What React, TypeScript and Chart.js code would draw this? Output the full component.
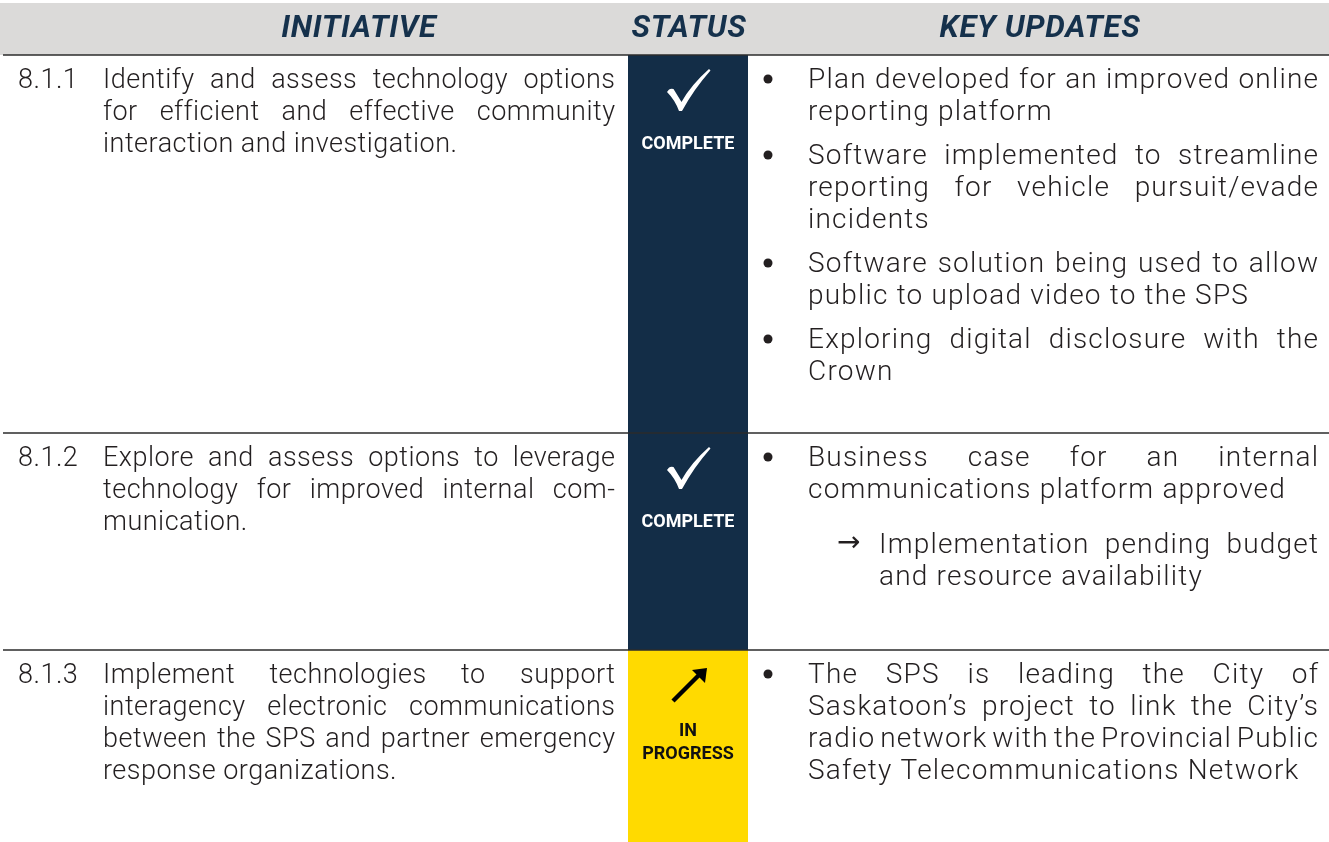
import React, { useEffect, useRef } from "react";
import { Chart, registerables } from "chart.js";

Chart.register(...registerables);

// ---------------- data ----------------
const HEADERS = ["INITIATIVE", "STATUS", "KEY UPDATES"];
const ROW_IDS = ["8.1.1", "8.1.2", "8.1.3"];

const INITIATIVE_811 = [
  "Identify and assess technology options",
  "for efficient and effective community",
  "interaction and investigation.",
];
const INITIATIVE_812 = [
  "Explore and assess options to leverage",
  "technology for improved internal com-",
  "munication.",
];
const INITIATIVE_813 = [
  "Implement technologies to support",
  "interagency electronic communications",
  "between the SPS and partner emergency",
  "response organizations.",
];
const INITIATIVES = [INITIATIVE_811, INITIATIVE_812, INITIATIVE_813];

const STATUS_KINDS = ["complete", "complete", "progress"];
const STATUS_LABELS = [["COMPLETE"], ["COMPLETE"], ["IN", "PROGRESS"]];

type Item = { level: number; lines: string[] };
const UPDATES_811: Item[] = [
  { level: 0, lines: ["Plan developed for an improved online", "reporting platform"] },
  { level: 0, lines: ["Software implemented to streamline", "reporting for vehicle pursuit/evade", "incidents"] },
  { level: 0, lines: ["Software solution being used to allow", "public to upload video to the SPS"] },
  { level: 0, lines: ["Exploring digital disclosure with the", "Crown"] },
];
const UPDATES_812: Item[] = [
  { level: 0, lines: ["Business case for an internal", "communications platform approved"] },
  { level: 1, lines: ["Implementation pending budget", "and resource availability"] },
];
const UPDATES_813: Item[] = [
  {
    level: 0,
    lines: [
      "The SPS is leading the City of",
      "Saskatoon\u2019s project to link the City\u2019s",
      "radio network with the Provincial Public",
      "Safety Telecommunications Network",
    ],
  },
];
const UPDATES = [UPDATES_811, UPDATES_812, UPDATES_813];

// ---------------- layout & style ----------------
const W = 1329;
const H = 842;
const L = {
  headerTop: 3,
  headerBottom: 55,
  rowEdges: [55, 433, 650, 842],
  ruleLeft: 3,
  numX: 18,
  initLeft: 103,
  initRight: 615,
  statusLeft: 628,
  statusRight: 748,
  bulletX: 768,
  bulletR: 4.5,
  updLeft: 808,
  updRight: 1318,
  arrowX: 837,
  subLeft: 879,
  firstBaseline: 33,
  lineH: 32,
  itemGap: 12,
  subItemGap: 23,
  iconOffset: 35,
  labelBaseline: 94,
  labelLineH: 23,
  headerBaseline: 37,
  headerCenters: [359, 689, 1040],
};
const COLORS: Record<string, string> = {
  complete: "#132d47",
  progress: "#ffda00",
  headerBg: "#dbdad9",
  headerText: "#15314c",
  body: "#231f20",
  rule: "#2b2b2b",
  completeLabel: "#ffffff",
  progressLabel: "#111111",
};
const FONT_HEADER = "italic 700 31px Roboto, 'Liberation Sans', sans-serif";
const FONT_INIT = "300 27px Roboto, 'Liberation Sans', sans-serif";
const FONT_UPD = "300 28px Roboto, 'Liberation Sans', sans-serif";
const FONT_LABEL = "700 18px Roboto, 'Liberation Sans', sans-serif";
const FONT_ARROW = "400 28px Roboto, 'DejaVu Sans', sans-serif";
const LS_HEADER = 0.7;
const LS_INIT = 0.5;
const LS_UPD = 1.2;

function drawTextLine(
  ctx: CanvasRenderingContext2D,
  text: string,
  x: number,
  y: number,
  width: number,
  justify: boolean,
  ls: number
) {
  (ctx as any).letterSpacing = `${ls}px`;
  const words = text.split(" ");
  if (!justify || words.length < 2) {
    ctx.fillText(text, x, y);
    return;
  }
  const widths = words.map((w) => ctx.measureText(w).width);
  const total = widths.reduce((a, b) => a + b, 0) - ls;
  const gap = (width - total) / (words.length - 1);
  let cx = x;
  words.forEach((w, i) => {
    ctx.fillText(w, cx, y);
    cx += widths[i] + gap;
  });
}

function drawCheck(ctx: CanvasRenderingContext2D, cx: number, cy: number) {
  ctx.save();
  ctx.translate(cx, cy);
  ctx.fillStyle = "#ffffff";
  ctx.beginPath();
  ctx.moveTo(-22, 2);
  ctx.quadraticCurveTo(-19.5, -2.5, -15.5, -1);
  ctx.lineTo(-7.5, 12);
  ctx.quadraticCurveTo(2, -5, 20, -21);
  ctx.lineTo(21.5, -19.5);
  ctx.quadraticCurveTo(5, -1, -7, 21);
  ctx.lineTo(-10, 21);
  ctx.quadraticCurveTo(-14, 10, -22, 2);
  ctx.closePath();
  ctx.fill();
  ctx.restore();
}

function drawUpArrow(ctx: CanvasRenderingContext2D, cx: number, cy: number) {
  ctx.save();
  ctx.translate(cx, cy);
  ctx.strokeStyle = "#000";
  ctx.fillStyle = "#000";
  ctx.lineWidth = 4.5;
  ctx.beginPath();
  ctx.moveTo(-16, 16);
  ctx.lineTo(10, -10);
  ctx.stroke();
  ctx.beginPath();
  ctx.moveTo(18, -17);
  ctx.lineTo(3, -15);
  ctx.lineTo(16, -2);
  ctx.closePath();
  ctx.fill();
  ctx.restore();
}

const tablePlugin = {
  id: "tableDecor",
  beforeDatasetsDraw(chart: any) {
    const { ctx } = chart;
    const xs = chart.scales.x;
    const ys = chart.scales.y;
    const px = (v: number) => xs.getPixelForValue(v);
    const py = (v: number) => ys.getPixelForValue(v);
    ctx.save();
    ctx.fillStyle = COLORS.headerBg;
    ctx.fillRect(px(0), py(L.headerTop), px(W) - px(0), py(L.headerBottom) - py(L.headerTop));
    ctx.restore();
  },
  afterDatasetsDraw(chart: any) {
    const { ctx } = chart;
    const xs = chart.scales.x;
    const ys = chart.scales.y;
    const px = (v: number) => xs.getPixelForValue(v);
    const py = (v: number) => ys.getPixelForValue(v);
    ctx.save();

    // rules
    ctx.strokeStyle = COLORS.rule;
    ctx.lineWidth = 1.6;
    L.rowEdges.slice(0, 3).forEach((e) => {
      ctx.beginPath();
      ctx.moveTo(px(L.ruleLeft), py(e));
      ctx.lineTo(px(W), py(e));
      ctx.stroke();
    });

    // headers
    ctx.font = FONT_HEADER;
    ctx.fillStyle = COLORS.headerText;
    ctx.textAlign = "center";
    ctx.textBaseline = "alphabetic";
    (ctx as any).letterSpacing = `${LS_HEADER}px`;
    HEADERS.forEach((h, i) => ctx.fillText(h, px(L.headerCenters[i]), py(L.headerBaseline)));

    const statusCenter = (L.statusLeft + L.statusRight) / 2;

    ROW_IDS.forEach((id, r) => {
      const top = L.rowEdges[r];
      const base = top + L.firstBaseline;

      // id & initiative
      ctx.textAlign = "left";
      ctx.fillStyle = COLORS.body;
      ctx.font = FONT_INIT;
      (ctx as any).letterSpacing = `${LS_INIT}px`;
      ctx.fillText(id, px(L.numX), py(base));
      const lines = INITIATIVES[r];
      lines.forEach((ln, k) => {
        drawTextLine(
          ctx,
          ln,
          px(L.initLeft),
          py(base + k * L.lineH),
          px(L.initRight) - px(L.initLeft),
          k < lines.length - 1,
          LS_INIT
        );
      });

      // status icon + labels
      const kind = STATUS_KINDS[r];
      if (kind === "complete") drawCheck(ctx, px(statusCenter + 1), py(top + L.iconOffset));
      else drawUpArrow(ctx, px(statusCenter + 1), py(top + L.iconOffset));
      ctx.font = FONT_LABEL;
      (ctx as any).letterSpacing = "0px";
      ctx.textAlign = "center";
      ctx.fillStyle = kind === "complete" ? COLORS.completeLabel : COLORS.progressLabel;
      const labels = STATUS_LABELS[r];
      const lb0 = top + L.labelBaseline - ((labels.length - 1) * L.labelLineH) / 3;
      labels.forEach((lab, k) => {
        ctx.fillText(lab, px(statusCenter), py(lb0 + k * L.labelLineH));
      });

      // key updates
      ctx.textAlign = "left";
      ctx.fillStyle = COLORS.body;
      let y = base;
      UPDATES[r].forEach((item, idx) => {
        if (idx > 0) y += item.level === 1 ? L.subItemGap : L.itemGap;
        ctx.font = FONT_UPD;
        if (item.level === 0) {
          ctx.beginPath();
          ctx.arc(px(L.bulletX), py(y - 9), L.bulletR, 0, Math.PI * 2);
          ctx.fill();
        } else {
          (ctx as any).letterSpacing = "0px";
          ctx.font = FONT_ARROW;
          ctx.fillText("\u2192", px(L.arrowX), py(y - 2));
          ctx.font = FONT_UPD;
        }
        const left = item.level === 0 ? L.updLeft : L.subLeft;
        item.lines.forEach((ln, k) => {
          drawTextLine(
            ctx,
            ln,
            px(left),
            py(y),
            px(L.updRight) - px(left),
            k < item.lines.length - 1,
            LS_UPD
          );
          if (k < item.lines.length - 1) y += L.lineH;
        });
        y += L.lineH;
      });
    });

    ctx.restore();
  },
};

export default function App() {
  const canvasRef = useRef<HTMLCanvasElement | null>(null);

  useEffect(() => {
    const canvas = canvasRef.current;
    if (!canvas) return;
    const statusCenter = (L.statusLeft + L.statusRight) / 2;
    const chart = new Chart(canvas, {
      type: "bar",
      data: {
        datasets: [
          {
            label: "Status",
            data: STATUS_KINDS.map((_, i) => ({
              x: statusCenter,
              y: [L.rowEdges[i], L.rowEdges[i + 1]],
            })) as any,
            backgroundColor: STATUS_KINDS.map((k) => COLORS[k]),
            borderWidth: 0,
            barThickness: L.statusRight - L.statusLeft,
            inflateAmount: 0,
          } as any,
        ],
      },
      options: {
        animation: false,
        responsive: false,
        devicePixelRatio: 1,
        layout: { padding: 0 },
        plugins: { legend: { display: false }, tooltip: { enabled: false } },
        events: [],
        scales: {
          x: { type: "linear", min: 0, max: W, display: false, offset: false },
          y: { type: "linear", min: 0, max: H, reverse: true, display: false },
        },
      },
      plugins: [tablePlugin],
    });
    const fonts: any = (document as any).fonts;
    if (fonts && fonts.load) {
      Promise.all([fonts.load(FONT_INIT), fonts.load(FONT_HEADER), fonts.load(FONT_LABEL)])
        .then(() => chart.update())
        .catch(() => {});
    }
    return () => chart.destroy();
  }, []);

  return (
    <div style={{ position: "absolute", left: 0, top: 0, width: W, height: H, background: "#fff" }}>
      <canvas ref={canvasRef} width={W} height={H} style={{ display: "block" }} />
    </div>
  );
}
